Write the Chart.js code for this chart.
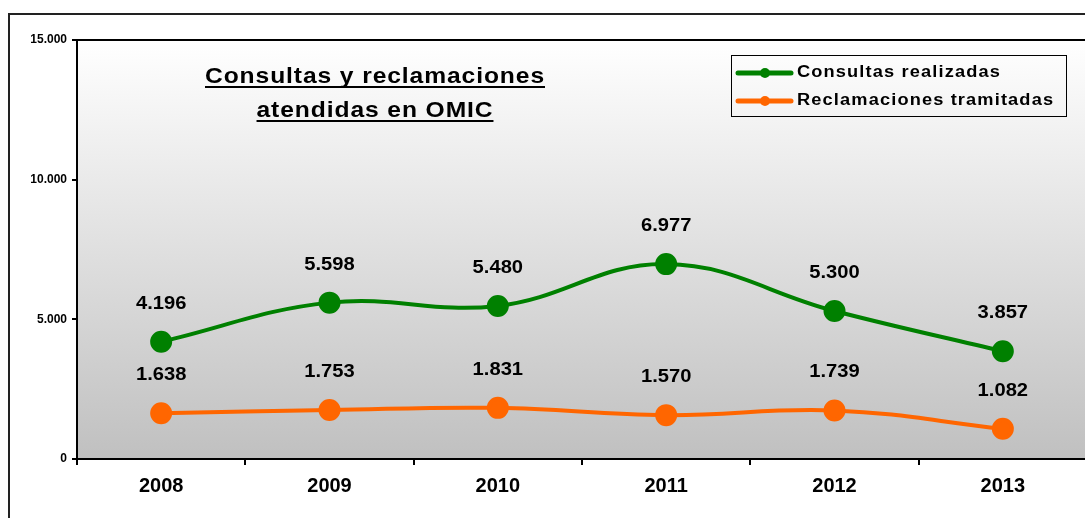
<!DOCTYPE html>
<html>
<head>
<meta charset="utf-8">
<script src="https://cdn.jsdelivr.net/npm/chart.js@4.4.1/dist/chart.umd.min.js"></script>
<style>
  html, body { margin: 0; padding: 0; background: #fff; overflow: hidden; }
  #omic { display: block; }
</style>
</head>
<body>
<canvas id="omic" width="1100" height="530"></canvas>
<script>
const years = ['2008', '2009', '2010', '2011', '2012', '2013'];
const consultas = [4196, 5598, 5480, 6977, 5300, 3857];
const reclamaciones = [1638, 1753, 1831, 1570, 1739, 1082];
const seriesNames = ['Consultas realizadas', 'Reclamaciones tramitadas'];
const titleLines = ['Consultas y reclamaciones', 'atendidas en OMIC'];

const FONT = '"Liberation Sans", Arial, sans-serif';
const fmt = v => v.toLocaleString('de-DE');

// text drawn a little wider, like the old Excel rendering
function wideText(ctx, text, x, y, stretch) {
  ctx.save();
  ctx.translate(x, y);
  ctx.scale(stretch, 1);
  ctx.fillText(text, 0, 0);
  ctx.restore();
}

// plot background gradient + frame
const plotFrame = {
  id: 'plotFrame',
  beforeDraw(chart) {
    const { ctx, chartArea: a } = chart;
    ctx.save();
    const g = ctx.createLinearGradient(0, a.top, 0, a.bottom);
    g.addColorStop(0, '#ffffff');
    g.addColorStop(1, '#c0c0c0');
    ctx.fillStyle = g;
    ctx.fillRect(a.left, a.top, a.right - a.left, a.bottom - a.top);
    // outer chart border
    ctx.strokeStyle = '#222';
    ctx.lineWidth = 2;
    ctx.strokeRect(9, 14, chart.width + 20, chart.height + 20);
    ctx.restore();
  },
  afterDatasetsDraw(chart) {
    const { ctx, chartArea: a } = chart;
    ctx.save();
    ctx.strokeStyle = '#000';
    ctx.lineWidth = 2;
    ctx.beginPath();
    ctx.moveTo(a.left, a.top);
    ctx.lineTo(a.right, a.top);
    ctx.lineTo(a.right, a.bottom);
    ctx.stroke();
    ctx.restore();
  }
};

// value labels above each point
const valueLabels = {
  id: 'valueLabels',
  afterDatasetsDraw(chart) {
    const { ctx } = chart;
    ctx.save();
    ctx.font = 'bold 18px ' + FONT;
    ctx.fillStyle = '#000';
    ctx.textAlign = 'center';
    ctx.textBaseline = 'middle';
    chart.data.datasets.forEach((ds, i) => {
      chart.getDatasetMeta(i).data.forEach((pt, j) => {
        wideText(ctx, fmt(ds.data[j]), pt.x, pt.y - 38, 1.12);
      });
    });
    ctx.restore();
  }
};

// underlined title inside the plot
const plotTitle = {
  id: 'plotTitle',
  afterDraw(chart) {
    const { ctx } = chart;
    ctx.save();
    ctx.font = 'bold 22px ' + FONT;
    ctx.letterSpacing = '0.8px';
    ctx.fillStyle = '#000';
    ctx.textAlign = 'center';
    ctx.textBaseline = 'alphabetic';
    const cx = 375;
    const stretch = 340 / ctx.measureText(titleLines[0]).width;
    titleLines.forEach((t, i) => {
      const y = 83 + i * 34;
      wideText(ctx, t, cx, y, stretch);
      const w = ctx.measureText(t).width * stretch;
      ctx.fillRect(cx - w / 2, y + 3, w, 2);
    });
    ctx.restore();
  }
};

// boxed legend top right
const boxLegend = {
  id: 'boxLegend',
  afterDraw(chart) {
    const { ctx } = chart;
    const x0 = 731, y0 = 55, w = 335, h = 61;
    ctx.save();
    ctx.strokeStyle = '#000';
    ctx.lineWidth = 1;
    ctx.strokeRect(x0 + 0.5, y0 + 0.5, w, h);
    ctx.font = 'bold 16px ' + FONT;
    ctx.letterSpacing = '1px';
    ctx.textBaseline = 'middle';
    const stretch = 204 / ctx.measureText(seriesNames[0]).width;
    chart.data.datasets.forEach((ds, i) => {
      const y = y0 + 18 + i * 28;
      ctx.strokeStyle = ds.borderColor;
      ctx.lineWidth = 5;
      ctx.lineCap = 'round';
      ctx.beginPath();
      ctx.moveTo(738, y);
      ctx.lineTo(791, y);
      ctx.stroke();
      ctx.fillStyle = ds.borderColor;
      ctx.beginPath();
      ctx.arc(765, y, 5, 0, Math.PI * 2);
      ctx.fill();
      ctx.fillStyle = '#000';
      wideText(ctx, ds.label, 797, y, stretch);
    });
    ctx.restore();
  }
};

new Chart(document.getElementById('omic'), {
  type: 'line',
  data: {
    labels: years,
    datasets: [
      {
        label: seriesNames[0],
        data: consultas,
        borderColor: '#008000',
        backgroundColor: '#008000',
        borderWidth: 4,
        pointRadius: 9,
        pointHoverRadius: 9,
        tension: 0.4
      },
      {
        label: seriesNames[1],
        data: reclamaciones,
        borderColor: '#ff6600',
        backgroundColor: '#ff6600',
        borderWidth: 4,
        pointRadius: 9,
        pointHoverRadius: 9,
        tension: 0.4
      }
    ]
  },
  options: {
    responsive: false,
    animation: false,
    events: [],
    layout: { padding: { top: 40, right: 12, bottom: 0, left: 0 } },
    plugins: {
      legend: { display: false },
      title: { display: false },
      tooltip: { enabled: false }
    },
    scales: {
      x: {
        offset: true,
        grid: { offset: true, drawOnChartArea: false, color: '#000', tickLength: 6, lineWidth: 2 },
        border: { display: true, color: '#000', width: 2 },
        ticks: { color: '#000', font: { family: FONT, size: 20, weight: 'bold' }, padding: 9 },
        afterFit(s) { s.height = 71; }
      },
      y: {
        min: 0,
        max: 15000,
        grid: { drawOnChartArea: false, color: '#000', tickLength: 5, lineWidth: 2 },
        border: { display: true, color: '#000', width: 2 },
        ticks: {
          stepSize: 5000,
          color: '#000',
          font: { family: FONT, size: 12, weight: 'bold' },
          padding: 5,
          callback: v => fmt(v)
        },
        afterFit(s) { s.width = 77; }
      }
    }
  },
  plugins: [plotFrame, valueLabels, plotTitle, boxLegend]
});
</script>
</body>
</html>
